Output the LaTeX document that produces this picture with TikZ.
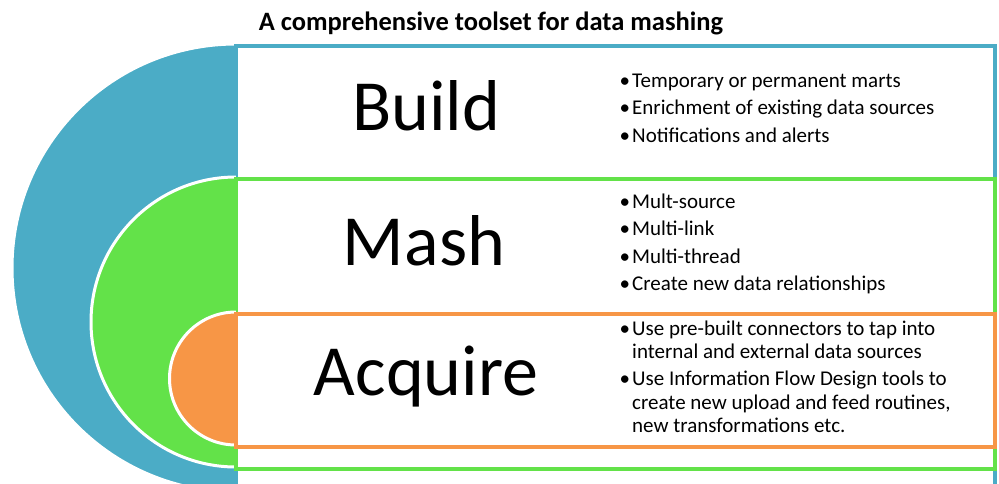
\documentclass[tikz,border=0pt]{standalone}
\usepackage{fontspec}
\setmainfont{Carlito}
\usepackage{tikz}
\usetikzlibrary{positioning}

\definecolor{bluec}{HTML}{4BACC6}
\definecolor{greenc}{HTML}{63E249}
\definecolor{orangec}{HTML}{F79646}

\tikzset{
  panel/.style={draw=#1,line width=3.5pt,rectangle,inner sep=0pt,minimum width=759pt,anchor=north west},
  bigword/.style={font=\fontsize{72}{76}\selectfont,inner sep=0pt,anchor=base},
  points/.style={font=\fontsize{21}{23.5}\selectfont,inner sep=0pt,anchor=base west}
}
\newcommand{\bul}{\par\noindent\llap{\textbullet\hspace{2pt}}}

\begin{document}
\begin{tikzpicture}[x=1pt,y=1pt]
\useasboundingbox (0,0) rectangle (999,-483);

% half discs and their panels
\foreach \name/\top/\bot/\col in {build/44/492/bluec, mash/177/467/greenc, acquire/312/445/orangec}{
  \pgfmathsetmacro{\rad}{(\bot-\top)/2}
  \pgfmathsetmacro{\hgt}{\bot-\top}
  \fill[\col] (236,-\top) arc[start angle=90,end angle=270,radius=\rad pt] -- cycle;
  \draw[white,line width=3pt] (236,-\top) arc[start angle=90,end angle=270,radius=\rad pt];
  \node[panel=\col,minimum height=\hgt pt] (\name box) at (234,-\top) {};
}

\node[font=\fontsize{26.5}{30}\selectfont\bfseries,anchor=base,inner sep=0pt] (title) at (491,-30) {A comprehensive toolset for data mashing};

\node[bigword] (buildword) at (426,-130) {Build};
\node[bigword] (mashword) at (424,-265) {Mash};
\node[bigword] (acquireword) at (426,-395) {Acquire};

\node[points] (buildpts) at (632,-87) {\begin{minipage}[t]{355pt}\setlength{\parskip}{4pt}
\bul Temporary or permanent marts
\bul Enrichment of existing data sources
\bul Notifications and alerts
\end{minipage}};

\node[points] (mashpts) at (632,-208) {\begin{minipage}[t]{355pt}\setlength{\parskip}{4pt}
\bul Mult-source
\bul Multi-link
\bul Multi-thread
\bul Create new data relationships
\end{minipage}};

\node[points] (acquirepts) at (632,-335) {\begin{minipage}[t]{355pt}\setlength{\parskip}{3.5pt}
\bul Use pre-built connectors to tap into\\ internal and external data sources
\bul Use Information Flow Design tools to\\ create new upload and feed routines,\\ new transformations etc.
\end{minipage}};
\end{tikzpicture}
\end{document}
